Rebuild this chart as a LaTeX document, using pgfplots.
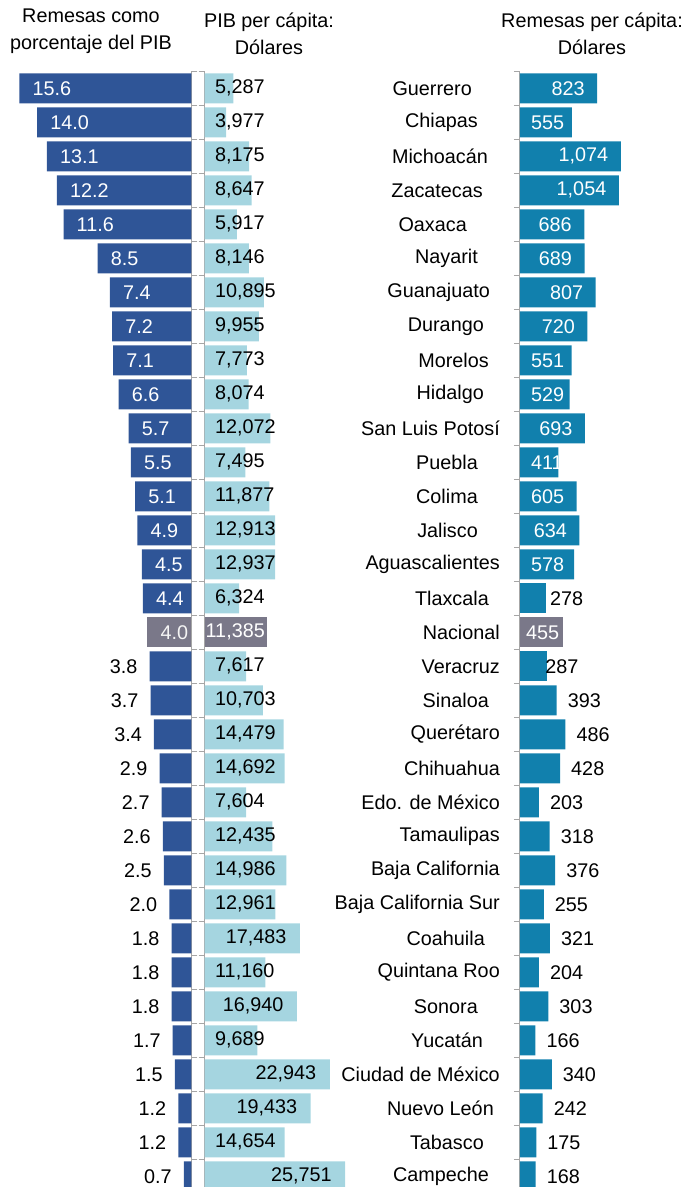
\documentclass[border=0pt]{standalone}
\usepackage{fontspec}
\setmainfont{Liberation Sans}
\usepackage{pgfplots}
\pgfplotsset{compat=1.18}
\definecolor{dblue}{HTML}{2F5597}
\definecolor{lblue}{HTML}{A5D5E0}
\definecolor{tealb}{HTML}{1180AD}
\definecolor{ngray}{HTML}{7A7889}
\definecolor{agray}{HTML}{A6A6A6}
\newcommand{\fs}{\fontsize{19.8}{27}\selectfont}
\pgfplotsset{
  panel/.style={
    scale only axis, height=1115.7pt,
    ymin=-0.5, ymax=32.315, y dir=reverse,
    axis x line=none,
    ytick={-0.5,0.5,...,31.5},
    yticklabel={\relax},
    major tick length=6pt,
    tick align=outside,
    y tick style={draw=agray, line width=1pt},
    y axis line style={-, draw=agray, line width=1.2pt},
    every node near coord/.append style={font=\fs, inner sep=0pt},
    /pgf/number format/assume math mode=true,
    anchor=south west,
  },
  bars/.style={xbar, bar width=30pt, bar shift=0pt, draw=none, fill=#1},
  lab/.style n args={3}{nodes near coords, every node near coord/.append style={anchor=#1, xshift=#2, text=#3}},
}
\begin{document}
\fs
\begin{tikzpicture}
\useasboundingbox (0pt,0pt) rectangle (686pt,1187pt);
% titles
\node[align=center, font=\fs] at (91pt,1155.5pt) {Remesas como\\porcentaje del PIB};
\node[align=center, font=\fs] at (269pt,1153.5pt) {PIB per cápita:\\Dólares};
\node[align=center, font=\fs] at (592pt,1153.5pt) {Remesas per cápita:\\Dólares};

% ---------- Left panel: remittances as % of GDP ----------
\begin{axis}[panel, axis y line*=right, at={(0pt,0pt)}, width=191.5pt, x dir=reverse, xmin=0, xmax=17.36,
  /pgf/number format/fixed, /pgf/number format/fixed zerofill, /pgf/number format/precision=1]
\addplot[bars=dblue, point meta=x, lab={west}{13pt}{white}] coordinates {
(15.6,0) (14.0,1) (13.1,2) (12.2,3) (11.6,4) (8.5,5) (7.4,6) (7.2,7)
(7.1,8) (6.6,9) (5.7,10) (5.5,11) (5.1,12) (4.9,13) (4.5,14) (4.4,15)};
\addplot[bars=ngray, point meta=x, lab={west}{13pt}{white!92!gray}] coordinates {(4.0,16)};
\addplot[bars=dblue, point meta=x, lab={east}{-12pt}{black}] coordinates {
(3.8,17) (3.7,18) (3.4,19) (2.9,20) (2.7,21) (2.6,22) (2.5,23) (2.0,24)
(1.8,25) (1.8,26) (1.8,27) (1.7,28) (1.5,29) (1.2,30) (1.2,31) (0.7,32)};
\end{axis}

% ---------- Middle panel: GDP per capita ----------
\begin{axis}[panel, axis y line*=left, at={(204.5pt,0pt)}, width=163.8pt, xmin=0, xmax=30000,
  /pgf/number format/fixed, /pgf/number format/precision=0, /pgf/number format/1000 sep={,}]
\addplot[bars=lblue] coordinates {
(5287,0) (3977,1) (8175,2) (8647,3) (5917,4) (8146,5) (10895,6) (9955,7)
(7773,8) (8074,9) (12072,10) (7495,11) (11877,12) (12913,13) (12937,14) (6324,15)
(7617,17) (10703,18) (14479,19) (14692,20) (7604,21) (12435,22) (14986,23) (12961,24)
(11160,26) (9689,28) (14654,31)};
\addplot[bars=lblue, point meta=x, lab={east}{-13.3pt}{black}] coordinates {
(17483,25) (16940,27) (22943,29) (19433,30) (25751,32)};
\addplot[bars=ngray] coordinates {(11385,16)};
% labels at the base of short bars
\addplot[xbar, bar width=30pt, bar shift=0pt, draw=none, fill=none, point meta=explicit,
  lab={west}{10.5pt}{black}] coordinates {
(0,0) [5287] (0,1) [3977] (0,2) [8175] (0,3) [8647] (0,4) [5917] (0,5) [8146]
(0,6) [10895] (0,7) [9955] (0,8) [7773] (0,9) [8074] (0,10) [12072] (0,11) [7495]
(0,12) [11877] (0,13) [12913] (0,14) [12937] (0,15) [6324] (0,17) [7617] (0,18) [10703]
(0,19) [14479] (0,20) [14692] (0,21) [7604] (0,22) [12435] (0,23) [14986] (0,24) [12961]
(0,26) [11160] (0,28) [9689] (0,31) [14654]};
\addplot[xbar, bar width=30pt, bar shift=0pt, draw=none, fill=none, point meta=explicit,
  lab={west}{1pt}{white}] coordinates {(0,16) [11385]};
\end{axis}

% ---------- Right panel: remittances per capita ----------
\begin{axis}[panel, axis y line*=left, at={(519.8pt,0pt)}, width=166.2pt, xmin=0, xmax=1768,
  /pgf/number format/fixed, /pgf/number format/precision=0, /pgf/number format/1000 sep={,},
  extra y ticks={0,...,32},
  extra y tick style={major tick length=0pt, tick style={draw=none},
    yticklabel style={font=\fs, anchor=east, inner sep=0pt, xshift=-19.8pt}},
  extra y tick labels={Guerrero\hspace*{28pt}, Chiapas\hspace*{22pt}, Michoacán\hspace*{12pt},
    Zacatecas\hspace*{17pt}, Oaxaca\hspace*{33pt}, Nayarit\hspace*{22pt},
    Guanajuato\hspace*{10pt}, Durango\hspace*{16pt}, Morelos\hspace*{11pt},
    Hidalgo\hspace*{16pt}, San Luis Potosí, Puebla\hspace*{22pt},
    Colima\hspace*{22pt}, Jalisco\hspace*{22pt}, Aguascalientes,
    Tlaxcala\hspace*{11pt}, Nacional, Veracruz, Sinaloa\hspace*{11pt},
    Querétaro, Chihuahua, Edo. de México, Tamaulipas, Baja California,
    Baja California Sur, Coahuila\hspace*{15pt}, Quintana Roo,
    Sonora\hspace*{22pt}, Yucatán\hspace*{17pt}, Ciudad de México,
    Nuevo León\hspace*{6pt}, Tabasco\hspace*{16pt}, Campeche\hspace*{11pt}}]
\addplot[bars=tealb, point meta=x, lab={east}{-12.4pt}{white}] coordinates {
(823,0) (1074,2) (1054,3) (686,4) (689,5) (807,6) (720,7) (693,10) (605,12) (634,13)};
\addplot[bars=tealb] coordinates {(555,1) (551,8) (529,9) (411,11) (578,14)};
\addplot[xbar, bar width=30pt, bar shift=0pt, draw=none, fill=none, point meta=explicit,
  lab={west}{11pt}{white}] coordinates {(0,1) [555] (0,8) [551] (0,9) [529] (0,11) [411] (0,14) [578]};
\addplot[bars=ngray] coordinates {(455,16)};
\addplot[xbar, bar width=30pt, bar shift=0pt, draw=none, fill=none, point meta=explicit,
  lab={west}{6pt}{white}] coordinates {(0,16) [455]};
\addplot[bars=tealb, point meta=x, lab={west}{4pt}{black}] coordinates {(278,15)};
\addplot[bars=tealb, point meta=x, lab={west}{-1.5pt}{black}] coordinates {(287,17)};
\addplot[bars=tealb, point meta=x, lab={west}{11pt}{black}] coordinates {
(393,18) (486,19) (428,20) (203,21) (318,22) (376,23) (255,24) (321,25)
(204,26) (303,27) (166,28) (340,29) (242,30) (175,31) (168,32)};
\end{axis}
\end{tikzpicture}
\end{document}
